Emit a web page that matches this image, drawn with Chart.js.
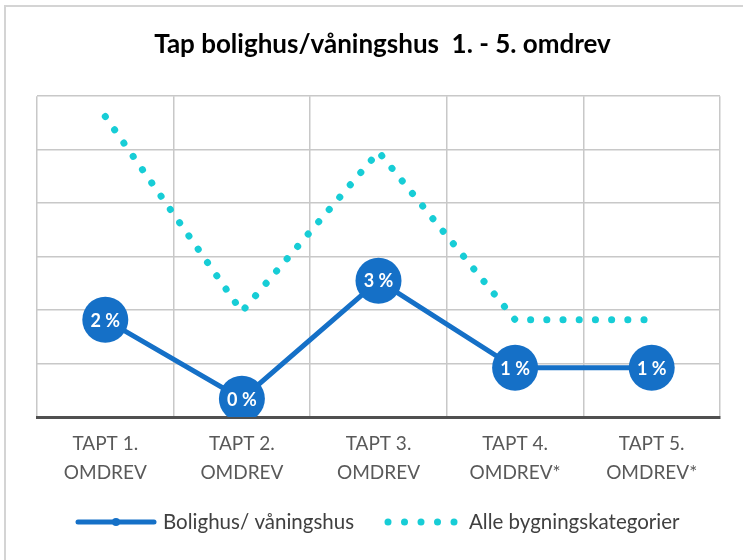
<!DOCTYPE html>
<html>
<head>
<meta charset="utf-8">
<script src="https://cdn.jsdelivr.net/npm/chart.js@4.4.1/dist/chart.umd.min.js"></script>
<style>
  body { margin: 0; background: #fff; }
  #wrap { position: relative; width: 743px; height: 560px; }
  #frame { position: absolute; left: 4px; top: 5px; right: -10px; bottom: -10px; border-left: 2px solid #d4d4d4; border-top: 2px solid #d4d4d4; }
  canvas { position: absolute; left: 0; top: 0; }
</style>
</head>
<body>
<div id="wrap">
  <div id="frame"></div>
  <canvas id="chart" width="743" height="560"></canvas>
</div>
<script>
// data (percent)
const categories = [['TAPT 1.', 'OMDREV'], ['TAPT 2.', 'OMDREV'], ['TAPT 3.', 'OMDREV'], ['TAPT 4.', 'OMDREV*'], ['TAPT 5.', 'OMDREV*']];
const bolighus = [1.82, 0.34, 2.55, 0.92, 0.92];
const alleKategorier = [5.62, 1.97, 4.96, 1.82, 1.82];
const seriesNames = ['Bolighus/ våningshus', 'Alle bygningskategorier'];

const BLUE = '#1570c7';
const CYAN = '#17cdd6';
const FONT = 'Lato, "Open Sans", sans-serif';

// white percent labels inside the blue markers
const pointLabels = {
    id: 'pointLabels',
    afterDatasetsDraw(chart) {
        const ctx = chart.ctx;
        const meta = chart.getDatasetMeta(0);
        ctx.save();
        ctx.fillStyle = '#fff';
        ctx.font = 'bold 18px ' + FONT;
        ctx.textAlign = 'center';
        ctx.textBaseline = 'middle';
        meta.data.forEach((pt, i) => {
            ctx.fillText(Math.round(bolighus[i]) + ' %', pt.x, pt.y + 1);
        });
        ctx.restore();
    }
};

// legend under the axis, drawn like the office-style legend
const bottomLegend = {
    id: 'bottomLegend',
    afterDraw(chart) {
        const ctx = chart.ctx;
        const y = 522;
        ctx.save();
        // line + marker
        ctx.strokeStyle = BLUE;
        ctx.lineWidth = 5;
        ctx.lineCap = 'round';
        ctx.beginPath();
        ctx.moveTo(78, y);
        ctx.lineTo(154, y);
        ctx.stroke();
        ctx.fillStyle = BLUE;
        ctx.beginPath();
        ctx.arc(116, y, 4, 0, Math.PI * 2);
        ctx.fill();
        // dots
        ctx.fillStyle = CYAN;
        for (let i = 0; i < 5; i++) {
            ctx.beginPath();
            ctx.arc(388 + i * 16.5, y, 3.5, 0, Math.PI * 2);
            ctx.fill();
        }
        ctx.fillStyle = '#404040';
        ctx.font = '20.5px ' + FONT;
        ctx.textBaseline = 'middle';
        ctx.fillText(seriesNames[0], 163, y);
        ctx.fillText(seriesNames[1], 469, y);
        ctx.restore();
    }
};

new Chart(document.getElementById('chart'), {
    type: 'line',
    data: {
        labels: categories,
        datasets: [{
            label: seriesNames[0],
            data: bolighus,
            borderColor: BLUE,
            backgroundColor: BLUE,
            borderWidth: 5,
            pointRadius: 23,
            pointHoverRadius: 23,
            pointBackgroundColor: BLUE,
            pointBorderColor: BLUE,
            pointBorderWidth: 0,
            tension: 0,
            order: 0
        }, {
            label: seriesNames[1],
            data: alleKategorier,
            borderColor: CYAN,
            borderWidth: 7,
            borderDash: [0.1, 16.1],
            borderCapStyle: 'round',
            pointRadius: 0,
            tension: 0,
            order: 1
        }]
    },
    options: {
        responsive: false,
        animation: false,
        layout: { padding: { left: 37, right: 15, top: 0, bottom: 60 } },
        plugins: {
            legend: { display: false },
            tooltip: { enabled: false },
            title: {
                display: true,
                text: 'Tap bolighus/våningshus  1. - 5. omdrev',
                color: '#000',
                font: { family: FONT, size: 26, weight: 'bold' },
                padding: { top: 29, bottom: 36 }
            }
        },
        scales: {
            x: {
                offset: true,
                grid: { offset: true, color: '#c8c8c8', lineWidth: 1.5, drawTicks: false },
                border: { color: '#505050', width: 3 },
                ticks: {
                    color: '#595959',
                    padding: 13,
                    maxRotation: 0,
                    font: { family: FONT, size: 19, lineHeight: 1.5 }
                }
            },
            y: {
                min: 0,
                max: 6,
                ticks: { display: false, stepSize: 1 },
                grid: { color: '#c8c8c8', lineWidth: 1.5, drawTicks: false },
                border: { display: false }
            }
        }
    },
    plugins: [pointLabels, bottomLegend]
});
</script>
</body>
</html>
